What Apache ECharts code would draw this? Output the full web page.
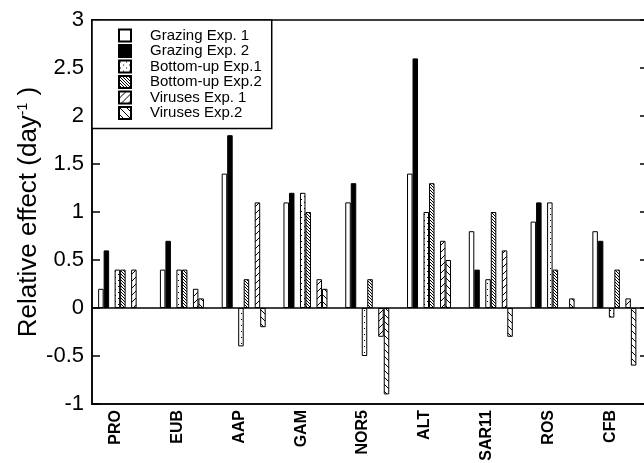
<!DOCTYPE html>
<html><head><meta charset="utf-8">
<script src="https://cdn.jsdelivr.net/npm/echarts@6/dist/echarts.min.js"></script>
<style>html,body{margin:0;padding:0;background:#fff}#c{width:644px;height:463px}</style>
</head><body><div id="c"></div>
<script>
const categories = ['PRO','EUB','AAP','GAM','NOR5','ALT','SAR11','ROS','CFB'];
const grazing1  = [0.2, 0.4, 1.4, 1.1, 1.1, 1.4, 0.8, 0.9, 0.8];
const grazing2  = [0.6, 0.7, 1.8, 1.2, 1.3, 2.6, 0.4, 1.1, 0.7];
const bottomUp1 = [0.4, 0.4, -0.4, 1.2, -0.5, 1.0, 0.3, 1.1, -0.1];
const bottomUp2 = [0.4, 0.4, 0.3, 1.0, 0.3, 1.3, 1.0, 0.4, 0.4];
const viruses1  = [0.4, 0.2, 1.1, 0.3, -0.3, 0.7, 0.6, null, 0.1];
const viruses2  = [null, 0.1, -0.2, 0.2, -0.9, 0.5, -0.3, 0.1, -0.6];
const emptySlot = [null, null, null, null, null, null, null, null, null];
const seriesNames = ['Grazing Exp. 1','Grazing Exp. 2','Bottom-up Exp.1','Bottom-up Exp.2','Viruses Exp. 1','Viruses Exp.2'];
const yTicks = {min: -1, max: 3, interval: 0.5};

const FONT = '"Liberation Sans", Arial, Helvetica, sans-serif';

function makePattern(s, draw) {
  const c = document.createElement('canvas');
  c.width = s; c.height = s;
  const g = c.getContext('2d');
  g.fillStyle = '#fff'; g.fillRect(0, 0, s, s);
  g.fillStyle = '#000'; g.strokeStyle = '#000';
  draw(g, s);
  return {image: c, repeat: 'repeat'};
}
function slash(lw) {
  return function (g, s) {
    g.lineWidth = lw; g.beginPath();
    g.moveTo(0, s); g.lineTo(s, 0);
    g.moveTo(-1, 1); g.lineTo(1, -1);
    g.moveTo(s - 1, s + 1); g.lineTo(s + 1, s - 1);
    g.stroke();
  };
}
function backslash(lw) {
  return function (g, s) {
    g.lineWidth = lw; g.beginPath();
    g.moveTo(0, 0); g.lineTo(s, s);
    g.moveTo(-1, s - 1); g.lineTo(1, s + 1);
    g.moveTo(s - 1, -1); g.lineTo(s + 1, 1);
    g.stroke();
  };
}
const dots = makePattern(6, function (g) { g.fillRect(1, 1, 1, 1); g.fillRect(4, 4, 1, 1); });
const denseBack = makePattern(3, backslash(1));
const wideSlash = makePattern(7, slash(1));
const wideBack = makePattern(7, backslash(1));

function bar(name, data, color) {
  return {
    name: name, type: 'bar', data: data, barWidth: 5.5, barGap: '0%',
    itemStyle: {color: color, borderColor: '#000', borderWidth: 1},
    emphasis: {disabled: true}
  };
}

const series = [
  bar(seriesNames[0], grazing1, '#fff'),
  bar(seriesNames[1], grazing2, '#000'),
  bar('gapA', emptySlot, '#fff'),
  bar(seriesNames[2], bottomUp1, dots),
  bar(seriesNames[3], bottomUp2, denseBack),
  bar('gapB', emptySlot, '#fff'),
  bar(seriesNames[4], viruses1, wideSlash),
  bar(seriesNames[5], viruses2, wideBack),
  bar('gapC', emptySlot, '#fff')
];
series[0].markLine = {
  silent: true, symbol: ['none', 'none'], animation: false,
  label: {show: false},
  lineStyle: {color: '#000', width: 1.5, type: 'solid'},
  data: [{yAxis: 0}]
};

const chart = echarts.init(document.getElementById('c'), null, {renderer: 'canvas'});
chart.setOption({
  animation: false,
  backgroundColor: '#fff',
  grid: {left: 92, top: 20, right: -4, bottom: 59, show: true, borderColor: '#000', borderWidth: 1.5,
         containLabel: false, outerBoundsMode: 'none'},
  legend: {
    data: seriesNames, orient: 'vertical', left: 92, top: 20,
    backgroundColor: '#fff', borderColor: '#000', borderWidth: 1.5,
    padding: [8, 10, 8, 26], itemWidth: 12, itemHeight: 12, itemGap: 0.5,
    icon: 'rect', selectedMode: false,
    textStyle: {fontFamily: FONT, fontSize: 15, color: '#000', lineHeight: 15, padding: [0, 0, 0, 14]}
  },
  xAxis: {
    type: 'category', data: categories,
    axisLine: {onZero: false, lineStyle: {color: '#000', width: 1.5}},
    axisTick: {show: false},
    axisLabel: {rotate: 90, fontFamily: FONT, fontWeight: 'bold', fontSize: 16, color: '#000', margin: 6,
                verticalAlign: 'bottom', lineHeight: 14},
    splitLine: {show: false}
  },
  yAxis: [{
    type: 'value', position: 'left', min: yTicks.min, max: yTicks.max, interval: yTicks.interval,
    axisLine: {show: true, lineStyle: {color: '#000', width: 1.5}},
    axisTick: {show: true, inside: true, length: 8, lineStyle: {color: '#000', width: 1.5}},
    axisLabel: {fontFamily: FONT, fontSize: 22, color: '#000', margin: 8},
    splitLine: {show: false},
    name: 'Relative effect (day{sup|-1} )', nameLocation: 'middle', nameGap: 50, nameRotate: 90,
    nameMoveOverlap: false,
    nameTextStyle: {fontFamily: FONT, fontSize: 26, color: '#000',
      rich: {sup: {fontFamily: FONT, fontSize: 14, color: '#000', verticalAlign: 'top', padding: [0, 0, 10, 0]}}}
  }, {
    type: 'value', position: 'right', min: yTicks.min, max: yTicks.max, interval: yTicks.interval,
    axisLine: {show: true, lineStyle: {color: '#000', width: 1.5}},
    axisTick: {show: true, inside: true, length: 8, lineStyle: {color: '#000', width: 1.5}},
    axisLabel: {show: false},
    splitLine: {show: false}
  }],
  series: series
});
</script>
</body></html>
